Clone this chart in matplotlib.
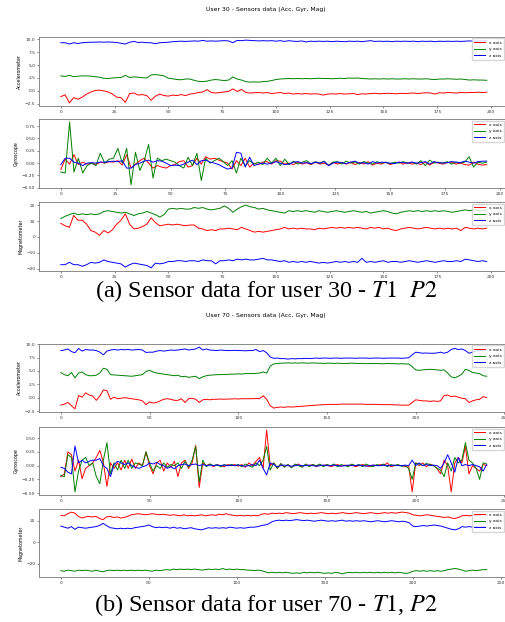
import numpy as np
import matplotlib
matplotlib.use('Agg')
import matplotlib.pyplot as plt
from matplotlib.ticker import MultipleLocator

# valores, uma amostra a cada 2 indices

# ---- user 30 ----
u30_acc_x = [-1.1, -0.75, -2.3, -1.3, -1.6, -1.2, -0.6, -0.2, 0.1, 0.15, 0.0, -0.2, -0.6, -1.2, -1.3, -2.2,
             -0.5, -0.4, -0.8, -0.7, -0.9, -1.8, -1.0, -0.6, -0.9, -1.0, -0.8, -0.9, -0.7, -0.9, -0.6, -0.5,
             -0.3, -0.2, 0.25, -0.3, -0.4, -0.3, -0.2, -0.1, 0.4, -0.1, 0.3, -0.3, -0.4, -0.35, -0.3, -0.4,
             -0.3, -0.5, -0.4, -0.3, -0.5, -0.4, -0.6, -0.5, -0.6, -0.5, -0.6, -0.55, -0.6, -0.8, -0.6, -0.55,
             -0.6, -0.5, -0.6, -0.55, -0.5, -0.7, -0.55, -0.6, -0.5, -0.45, -0.55, -0.5, -0.45, -0.5, -0.55,
             -0.45, -0.5, -0.45, -0.4, -0.5, -0.4, -0.35, -0.4, -0.6, -0.35, -0.4, -0.3, -0.35, -0.4, -0.3,
             -0.35, -0.3, -0.3, -0.25, -0.3, -0.25]
u30_acc_y = [2.9, 2.8, 3.0, 2.75, 2.85, 2.9, 2.9, 2.85, 2.75, 2.65, 2.45, 2.4, 2.5, 2.55, 2.6, 3.0, 2.6, 2.7,
             2.65, 2.55, 2.5, 3.1, 3.15, 3.05, 2.9, 2.45, 2.35, 2.2, 2.15, 2.3, 2.3, 2.05, 1.85, 1.8, 1.9, 2.1,
             2.2, 2.1, 2.0, 2.1, 2.7, 2.3, 2.1, 1.8, 1.7, 1.75, 1.7, 1.8, 1.85, 2.0, 2.2, 2.3, 2.35, 2.4, 2.35,
             2.4, 2.35, 2.4, 2.35, 2.4, 2.45, 2.4, 2.4, 2.35, 2.4, 2.45, 2.4, 2.5, 2.45, 2.5, 2.4, 2.35, 2.3,
             2.35, 2.3, 2.35, 2.3, 2.35, 2.3, 2.3, 2.35, 2.3, 2.35, 2.3, 2.3, 2.35, 2.25, 2.2, 2.3, 2.3, 2.35,
             2.3, 2.25, 2.3, 2.2, 2.1, 2.15, 2.1, 2.1, 2.05]
u30_acc_z = [9.3, 9.3, 9.05, 9.3, 9.15, 9.3, 9.35, 9.4, 9.4, 9.45, 9.4, 9.45, 9.4, 9.35, 9.2, 9.05, 9.4, 9.55,
             9.35, 9.4, 9.3, 9.3, 9.1, 9.3, 9.35, 9.4, 9.5, 9.55, 9.6, 9.55, 9.6, 9.65, 9.6, 9.75, 9.6, 9.65,
             9.6, 9.65, 9.7, 9.65, 9.3, 9.75, 9.7, 9.8, 9.75, 9.7, 9.65, 9.7, 9.65, 9.7, 9.6, 9.7, 9.55, 9.7,
             9.6, 9.55, 9.65, 9.45, 9.6, 9.55, 9.6, 9.55, 9.6, 9.5, 9.6, 9.55, 9.5, 9.6, 9.55, 9.6, 9.5, 9.6,
             9.7, 9.55, 9.6, 9.55, 9.6, 9.5, 9.6, 9.55, 9.6, 9.55, 9.6, 9.5, 9.6, 9.55, 9.6, 9.5, 9.6, 9.55,
             9.6, 9.55, 9.6, 9.55, 9.6, 9.65, 9.6, 9.6, 9.65, 9.6]

u30_gyr_x = [-0.13, 0.08, -0.02, 0.17, -0.03, 0.02, -0.02, 0.0, -0.03, 0.02, 0.0, 0.03, 0.02, 0.05, -0.04,
             0.17, -0.1, -0.02, 0.05, 0.1, 0.0, -0.1, -0.05, -0.08, -0.1, -0.05, -0.03, 0.03, 0.05, -0.08,
             -0.05, 0.1, -0.02, 0.13, 0.08, 0.1, 0.06, 0.03, 0.0, -0.12, 0.05, -0.05, 0.1, -0.08, 0.0, -0.03,
             0.02, 0.03, -0.02, 0.05, 0.04, -0.02, 0.0, -0.03, 0.02, -0.02, 0.01, -0.03, 0.02, -0.02, 0.0,
             -0.04, 0.02, -0.02, 0.01, -0.02, 0.02, -0.03, 0.01, -0.02, 0.03, -0.04, 0.0, -0.02, 0.02, -0.03,
             0.0, 0.02, -0.02, 0.01, -0.02, 0.0, -0.03, 0.02, -0.04, 0.02, 0.0, -0.02, 0.01, 0.02, -0.02, 0.0,
             -0.03, -0.04, 0.02, -0.02, -0.04, -0.03]
u30_gyr_y = [-0.18, -0.2, 0.83, -0.18, 0.1, -0.2, -0.05, 0.0, -0.05, 0.2, 0.0, 0.08, 0.1, 0.3, 0.0, 0.3,
             -0.44, 0.22, -0.15, 0.05, 0.38, -0.3, 0.1, 0.05, 0.08, 0.05, 0.02, -0.05, -0.1, 0.12, -0.05, 0.2,
             -0.35, 0.1, 0.0, 0.05, 0.1, 0.03, -0.05, 0.05, -0.2, 0.1, -0.05, 0.05, -0.02, 0.02, -0.03, 0.1,
             0.0, 0.1, -0.05, 0.08, -0.03, 0.04, -0.02, 0.02, 0.05, -0.02, 0.03, 0.0, 0.04, -0.05, 0.02, 0.03,
             -0.02, 0.04, 0.0, 0.02, -0.02, 0.03, 0.0, -0.02, 0.03, 0.0, 0.02, -0.01, 0.02, 0.0, 0.03, 0.0,
             0.02, -0.02, 0.05, -0.05, 0.06, 0.0, 0.02, 0.0, 0.03, -0.02, 0.02, 0.0, 0.02, 0.13, -0.08, 0.02,
             0.0, 0.02]
u30_gyr_z = [-0.03, 0.1, 0.1, 0.02, 0.0, -0.05, 0.0, 0.01, 0.0, 0.02, 0.02, 0.03, 0.04, 0.03, 0.05, -0.1,
             -0.1, -0.03, 0.0, 0.04, 0.06, 0.02, 0.05, 0.04, 0.0, -0.05, -0.04, -0.05, -0.02, 0.02, 0.06,
             -0.03, 0.05, 0.06, 0.02, 0.0, -0.03, -0.08, -0.12, -0.1, 0.22, 0.2, -0.08, 0.12, -0.05, -0.02,
             0.0, -0.02, 0.0, 0.03, 0.0, -0.03, -0.02, 0.02, 0.03, 0.0, 0.01, -0.01, 0.02, 0.0, 0.03, -0.05,
             0.0, 0.02, 0.01, -0.01, 0.02, 0.04, 0.0, 0.01, -0.02, 0.03, 0.0, 0.02, 0.01, 0.0, -0.01, 0.02,
             0.01, 0.0, 0.02, 0.0, 0.01, 0.03, -0.02, 0.03, 0.01, 0.0, 0.01, 0.03, 0.02, 0.01, 0.04, 0.02,
             0.0, 0.03, 0.04, 0.04]

u30_mag_x = [8.5, 7, 6, 13.5, 10.5, 10.5, 8, 4, 3, 1, 4, 2.5, 4.5, 8, 10.5, 14.5, 8, 5, 5.5, 6.5, 8, 12, 9,
             7, 7.5, 8, 7.5, 8, 7.5, 7, 7.5, 7.5, 5.5, 5, 4, 4.5, 4, 5, 5, 5.5, 5, 4.5, 6, 5, 4, 3, 3.5, 3,
             3.5, 4, 4.5, 5, 6, 5, 5.5, 5, 5.5, 5, 5, 4.5, 5.5, 5, 5.5, 6, 5.5, 6, 5.5, 6, 5.5, 6, 5.5, 5, 6,
             5.5, 6, 5, 5.5, 4.5, 4, 5, 5.5, 6, 5.5, 5, 5.5, 6, 5.5, 5, 5.5, 5, 5.5, 5, 5.5, 4, 6, 5.5, 5,
             5.5, 5, 5.5]
u30_mag_y = [11.5, 13, 14, 15, 14, 14.5, 14, 14.5, 14, 14.5, 16, 16.5, 16, 15.5, 15, 15.5, 14.5, 13.5, 14.5,
             15, 16, 15, 14, 12.5, 14, 17.5, 18, 17.5, 18, 17.5, 17.5, 18.5, 18, 18.5, 17.5, 17, 17.5, 18,
             19.5, 18, 15.5, 17.5, 19, 20, 19, 18.5, 17.5, 18, 17, 16.5, 16, 15.5, 15, 16.5, 16, 16.5, 16,
             16.5, 16, 15.5, 16.5, 16, 15.5, 16, 16.5, 16, 15.5, 16, 16.5, 16, 15.5, 16, 15, 15.5, 16, 16.5,
             16, 15, 14.5, 15.5, 16, 16.5, 16, 16.5, 16, 16.5, 16, 16.5, 16, 16.5, 16, 15.5, 16, 16.5, 17,
             16.5, 17, 16.5, 16.5, 17]
u30_mag_z = [-17.5, -17.5, -16, -17.5, -17.5, -18.5, -17.5, -16, -16.5, -16, -14.5, -15.5, -16, -16.5, -17,
             -19, -17.5, -16.5, -17, -17.5, -18, -19.5, -16.5, -17, -16.5, -15.5, -15.5, -15, -15, -15.5,
             -15, -15, -15.5, -14.5, -15, -15, -17, -15, -15, -14.5, -15, -14, -14.5, -14, -14.5, -14.5, -14,
             -13.5, -14.5, -14.5, -15, -15.5, -15, -16, -15.5, -16, -15.5, -16, -15.5, -16, -16.5, -16, -16.5,
             -16, -15.5, -16, -15.5, -16, -15.5, -16, -13.5, -16, -15.5, -16, -15.5, -15, -16, -15.5, -15.5,
             -16, -15.5, -15, -15.5, -16, -15.5, -15, -15.5, -16, -15.5, -15, -15.5, -15.5, -15, -15.5, -14,
             -14.5, -15, -15.5, -15, -15.5]

# ---- user 70 ----
u70_acc_x = [-1.4, -1.2, -0.9, -1.5, -2.1, 0.4, 0.1, 0.9, 0.5, 0.3, -0.5, 0.3, 1.45, 1.3, -0.3, 0.1, -0.2,
             -0.1, 0.0, -0.1, -0.2, -0.3, -0.4, -0.6, -1.3, -0.8, -1.0, -0.9, -0.6, -0.3, -0.2, -0.3, -0.5,
             -0.5, -0.2, -0.9, -0.2, -0.1, -0.3, -0.9, -0.4, -0.3, -0.4, -0.3, -0.3, -0.25, -0.3, -0.25, -0.25,
             -0.2, -0.25, -0.2, -0.2, -0.2, -0.2, -0.15, -0.2, 0.35, -0.3, -1.5, -1.95, -1.8, -1.75, -1.8,
             -1.7, -1.75, -1.7, -1.65, -1.6, -1.55, -1.5, -1.45, -1.4, -1.35, -1.3, -1.3, -1.25, -1.25, -1.25,
             -1.2, -1.2, -1.2, -1.2, -1.2, -1.2, -1.2, -1.25, -1.25, -1.25, -1.25, -1.3, -1.3, -1.3, -1.3,
             -1.35, -1.35, -1.4, -1.4, -1.4, -0.9, -0.4, -0.5, -0.6, -0.6, -0.7, -0.6, -0.7, -0.6, 0.4, 0.5,
             0.2, 0.3, 0.1, -0.1, -0.2, -0.9, -0.6, -0.4, -0.3, 0.2, 0.0]
u70_acc_y = [4.7, 4.3, 4.1, 4.7, 3.7, 4.6, 4.8, 4.3, 4.1, 4.1, 4.2, 4.6, 5.5, 5.3, 4.3, 4.25, 4.2, 4.15, 4.1,
             4.05, 4.0, 4.1, 4.2, 4.3, 4.9, 5.1, 4.8, 4.6, 4.5, 4.4, 4.3, 4.2, 4.1, 4.2, 3.9, 4.0, 3.8, 3.9,
             4.0, 3.55, 3.9, 4.1, 4.2, 4.25, 4.3, 4.3, 4.35, 4.35, 4.4, 4.4, 4.45, 4.4, 4.5, 4.5, 4.5, 4.55,
             4.6, 4.8, 4.6, 5.9, 6.3, 6.4, 6.45, 6.45, 6.5, 6.45, 6.5, 6.45, 6.5, 6.45, 6.45, 6.5, 6.45, 6.45,
             6.4, 6.45, 6.45, 6.4, 6.45, 6.4, 6.4, 6.4, 6.45, 6.4, 6.4, 6.4, 6.35, 6.4, 6.35, 6.4, 6.35, 6.35,
             6.4, 6.35, 6.35, 6.3, 6.35, 6.3, 6.3, 5.8, 5.2, 5.1, 5.2, 5.25, 5.3, 5.25, 5.2, 5.1, 5.2, 4.6,
             3.9, 3.7, 4.0, 4.4, 5.3, 5.1, 4.7, 4.6, 4.5, 4.1, 4.0]
u70_acc_z = [8.8, 8.9, 9.1, 8.6, 8.4, 9.2, 8.7, 9.0, 8.9, 8.9, 8.8, 8.5, 8.0, 8.7, 8.9, 9.0, 8.9, 9.0, 8.95,
             9.0, 8.9, 8.95, 9.0, 8.9, 8.45, 8.5, 8.5, 8.7, 8.8, 8.7, 8.8, 8.9, 8.85, 8.9, 9.0, 9.1, 8.9, 9.0,
             9.1, 9.45, 8.9, 9.1, 8.9, 8.85, 8.8, 8.9, 8.85, 8.8, 8.8, 8.85, 8.8, 8.8, 8.75, 8.8, 8.8, 9.0,
             8.6, 8.8, 8.4, 7.6, 7.35, 7.4, 7.3, 7.3, 7.2, 7.3, 7.25, 7.3, 7.3, 7.35, 7.3, 7.35, 7.4, 7.35,
             7.4, 7.4, 7.35, 7.4, 7.4, 7.35, 7.4, 7.4, 7.4, 7.35, 7.4, 7.4, 7.4, 7.35, 7.4, 7.4, 7.4, 7.35,
             7.4, 7.4, 7.4, 7.4, 7.35, 7.4, 7.45, 8.0, 8.5, 8.4, 8.3, 8.35, 8.3, 8.3, 8.35, 8.5, 8.3, 8.5,
             9.0, 9.2, 9.0, 9.1, 8.8, 8.3, 8.5, 8.7, 8.8, 8.9, 8.9]

u70_gyr_x = [-0.2, -0.15, 0.25, 0.2, -0.1, 0.1, -0.24, -0.05, 0.0, 0.05, 0.15, 0.28, 0.05, -0.38, 0.05,
             -0.05, 0.05, -0.08, 0.1, -0.05, 0.12, -0.05, 0.05, 0.0, 0.25, 0.0, -0.15, 0.05, 0.1, -0.1, 0.05,
             -0.03, 0.08, -0.2, 0.05, 0.1, -0.05, 0.05, 0.37, -0.4, 0.05, 0.0, 0.03, -0.02, 0.02, 0.0, -0.02,
             0.02, 0.0, 0.02, -0.01, 0.02, -0.03, 0.05, 0.0, 0.08, 0.15, -0.05, 0.65, 0.0, 0.05, -0.05, 0.03,
             -0.02, 0.02, -0.03, 0.01, 0.03, -0.02, 0.02, 0.0, 0.02, -0.02, 0.01, 0.0, 0.02, -0.02, 0.0, 0.02,
             -0.01, 0.01, 0.0, 0.02, -0.02, 0.0, 0.02, 0.0, -0.02, 0.01, 0.0, 0.02, 0.0, 0.05, -0.02, 0.0,
             0.01, 0.0, -0.02, 0.0, -0.48, 0.05, 0.0, 0.05, -0.02, 0.03, 0.0, -0.05, -0.15, 0.1, 0.0, -0.48,
             0.05, 0.15, 0.05, 0.35, -0.15, 0.0, -0.05, -0.1, 0.02, 0.0]
u70_gyr_y = [-0.18, -0.2, 0.2, 0.15, -0.48, -0.1, 0.1, 0.15, 0.0, 0.05, -0.2, -0.33, 0.1, 0.42, -0.15, 0.05,
             -0.08, 0.1, -0.05, 0.1, -0.05, 0.05, 0.03, 0.0, 0.25, 0.05, -0.1, 0.0, -0.05, 0.05, -0.03, 0.02,
             0.0, 0.05, -0.05, 0.08, -0.03, 0.1, 0.35, -0.3, 0.1, -0.02, 0.03, 0.0, 0.02, -0.02, 0.02, 0.0,
             0.02, 0.0, 0.02, -0.02, 0.03, 0.0, -0.03, 0.05, 0.0, 0.1, 0.35, -0.08, 0.05, -0.05, 0.04, -0.03,
             0.02, -0.04, 0.03, 0.0, -0.03, 0.03, -0.02, 0.02, 0.0, 0.03, -0.02, 0.02, 0.0, 0.03, -0.02, 0.02,
             0.0, -0.02, 0.03, 0.0, 0.02, -0.02, 0.03, 0.0, -0.02, 0.02, 0.0, 0.03, -0.02, 0.02, 0.0, 0.02,
             -0.01, 0.0, -0.05, -0.25, 0.05, 0.03, 0.0, 0.04, 0.02, 0.0, -0.05, -0.08, -0.2, 0.05, -0.1, 0.15,
             0.05, 0.1, 0.42, 0.1, 0.05, -0.05, -0.25, 0.05, 0.03]
u70_gyr_z = [-0.03, -0.05, -0.12, -0.15, 0.36, 0.05, 0.1, 0.05, 0.08, 0.1, 0.1, 0.13, 0.0, -0.05, -0.2, 0.02,
             0.08, 0.05, 0.02, 0.05, 0.0, -0.03, -0.05, -0.02, 0.0, 0.05, 0.03, 0.06, 0.02, 0.0, -0.05, -0.02,
             -0.06, 0.0, 0.02, 0.03, 0.0, 0.02, 0.03, 0.0, 0.02, 0.0, 0.01, 0.0, 0.01, 0.0, 0.01, 0.0, 0.01,
             0.0, 0.01, 0.0, -0.01, 0.0, 0.02, 0.0, 0.1, -0.05, -0.17, 0.05, 0.02, -0.02, 0.0, 0.01, 0.0,
             -0.01, 0.0, 0.01, 0.0, 0.0, 0.01, 0.0, -0.01, 0.0, 0.01, 0.0, 0.0, 0.01, 0.0, -0.01, 0.0, 0.01,
             0.0, 0.0, 0.01, 0.0, -0.01, 0.0, 0.01, 0.0, 0.0, 0.01, 0.0, 0.0, 0.01, 0.0, 0.0, 0.01, 0.0, 0.1,
             0.0, 0.05, 0.0, 0.02, 0.0, 0.01, 0.0, -0.05, 0.05, 0.2, 0.05, -0.12, 0.15, 0.0, 0.02, 0.0, 0.02,
             0.0, -0.02, -0.1, 0.02]

u70_mag_x = [25, 24.5, 26.5, 28, 27, 24, 22.5, 23.5, 24, 23.5, 24, 22, 21, 23.5, 24, 23, 23.5, 22.5, 23, 24,
             25.5, 26, 26.5, 26, 25.5, 26, 26.5, 26, 25.5, 26, 25.5, 25, 25.5, 25, 24.5, 25.5, 24.5, 25, 24.5,
             25, 25.5, 24.5, 25, 25.5, 25, 26, 25.5, 26.5, 25.5, 25, 24.5, 25, 24.5, 25, 24.5, 25, 24.5, 26,
             26.5, 26, 27, 26.5, 27, 26.5, 27.5, 27, 26.5, 27, 27.5, 27, 26.5, 27, 26.5, 27, 27.5, 27, 26.5,
             27, 26.5, 27, 27.5, 27, 26.5, 27, 27.5, 27, 26.5, 27, 27.5, 27, 26.5, 27, 27.5, 27, 27.5, 27,
             27.5, 28, 27.5, 27, 25.5, 25, 24.5, 25, 25.5, 25, 24.5, 24, 23.5, 23, 23.5, 22.5, 22, 23, 24.5,
             25, 24.5, 25, 24.5, 25, 25.5, 25]
u70_mag_y = [-26.5, -27, -26, -26.5, -27, -26, -26.5, -26, -26.5, -27, -26, -27, -27.5, -26.5, -26, -26.5,
             -26, -26.5, -26, -26.5, -26, -26.5, -26, -26.5, -26, -26.5, -27, -26, -26.5, -26, -25.5, -26, -25,
             -25.5, -25, -25.5, -25, -25.5, -25, -25.5, -26, -25.5, -25, -25.5, -25, -25.5, -24.5, -25.5, -25,
             -25.5, -25, -25.5, -25.5, -26, -26, -26.5, -26, -26.5, -27.5, -28.5, -28, -28.5, -28, -28.5, -28,
             -28.5, -29, -28.5, -29, -28, -28.5, -28, -28.5, -28, -28.5, -29, -28.5, -29, -28, -28.5, -29.5,
             -28.5, -28, -28.5, -28, -28.5, -28, -28.5, -28, -28.5, -28, -28.5, -28, -28.5, -28, -28.5, -28,
             -28.5, -29, -28.5, -27, -26.5, -27, -26.5, -27, -26.5, -27, -26.5, -27, -26.5, -25.5, -25, -24.5,
             -25, -26, -27, -26.5, -26, -26.5, -26, -25.5, -25.5]
u70_mag_z = [15, 14, 13, 14.5, 12, 14, 13.5, 13, 13.5, 14, 14.5, 15.5, 17.5, 15.5, 13.5, 13, 12.5, 13, 12.5,
             13, 12.5, 13.5, 14, 14.5, 15, 16, 14.5, 13.5, 14, 13.5, 14, 13, 14, 13, 13.5, 12.5, 13, 13.5,
             12.5, 12, 11.5, 12.5, 13.5, 13, 13.5, 13, 13.5, 13, 14, 13.5, 13, 13.5, 13, 13.5, 14, 14, 14.5,
             15.5, 16, 17, 19, 20, 20.5, 20, 20.5, 20, 20.5, 21, 20.5, 20, 20.5, 20, 19.5, 20, 20.5, 20, 19.5,
             20, 19.5, 20, 20.5, 19.5, 20, 19.5, 20, 19.5, 20, 19.5, 19, 19.5, 20, 19.5, 19, 19.5, 20, 19.5,
             19, 19.5, 19, 18, 15, 14.5, 15, 15.5, 15, 15.5, 16, 15.5, 15, 14, 13, 12, 11.5, 12.5, 14.5, 14,
             14.5, 14, 14.5, 14, 14.5, 14]

cores = ['red', 'green', 'blue']
nomes = ['x axis', 'y axis', 'z axis']

W, H = 506, 622


def painel(fig, topo, base, series, ylabel, ypasso, xpasso):
    """Um subplot de sensor com as tres componentes."""
    esq, dir_ = 39.5, 508
    ax = fig.add_axes([esq / W, 1 - base / H, (dir_ - esq) / W, (base - topo) / H])
    for vals, cor, nome in zip(series, cores, nomes):
        amostras = np.arange(len(vals)) * 2
        ax.plot(amostras, vals, color=cor, linewidth=0.7, label=nome)
    ax.set_ylabel(ylabel, fontsize=3.4, labelpad=2)
    ax.yaxis.set_major_locator(MultipleLocator(ypasso))
    ax.xaxis.set_major_locator(MultipleLocator(xpasso))
    ax.tick_params(labelsize=3.2, length=1.5, width=0.4, pad=1.5, colors='#333333')
    for sp in ax.spines.values():
        sp.set_linewidth(0.6)
        sp.set_color('#777777')
    # a legenda fica encostada na borda direita da imagem
    ax.legend(loc='upper right', bbox_to_anchor=(504 / W, 1 - (topo + 1.5) / H),
              bbox_transform=fig.transFigure, fontsize=3.2, handlelength=2.6, borderpad=0.5,
              labelspacing=0.55, borderaxespad=0, framealpha=0.8, edgecolor='#cccccc')
    return ax


fig = plt.figure(figsize=(W / 100, H / 100), dpi=100)

# figura (a) - user 30
fig.text(266 / W, 1 - 10 / H, 'User 30 - Sensors data (Acc, Gyr, Mag)', ha='center', va='center', fontsize=4.4)
painel(fig, 37, 106, [u30_acc_x, u30_acc_y, u30_acc_z], 'Accelerometer', 2.5, 25)
painel(fig, 119, 188, [u30_gyr_x, u30_gyr_y, u30_gyr_z], 'Gyroscope', 0.25, 25)
painel(fig, 202, 271, [u30_mag_x, u30_mag_y, u30_mag_z], 'Magnetometer', 10, 25)

# figura (b) - user 70
fig.text(266 / W, 1 - 316 / H, 'User 70 - Sensors data (Acc, Gyr, Mag)', ha='center', va='center', fontsize=4.4)
painel(fig, 344, 412, [u70_acc_x, u70_acc_y, u70_acc_z], 'Accelerometer', 2.5, 50)
painel(fig, 427, 495, [u70_gyr_x, u70_gyr_y, u70_gyr_z], 'Gyroscope', 0.25, 50)
painel(fig, 509, 577, [u70_mag_x, u70_mag_y, u70_mag_z], 'Magnetometer', 20, 50)

# legendas do documento
plt.rcParams['mathtext.fontset'] = 'stix'
fig.text(266 / W, 1 - 291 / H, '(a) Sensor data for user 30 - $T1$  $P2$', ha='center', va='center',
         fontsize=17.5, family='Liberation Serif')
fig.text(266 / W, 1 - 605 / H, '(b) Sensor data for user 70 - $T1$, $P2$', ha='center', va='center',
         fontsize=17.5, family='Liberation Serif')

fig.savefig('out.png', dpi=100)
